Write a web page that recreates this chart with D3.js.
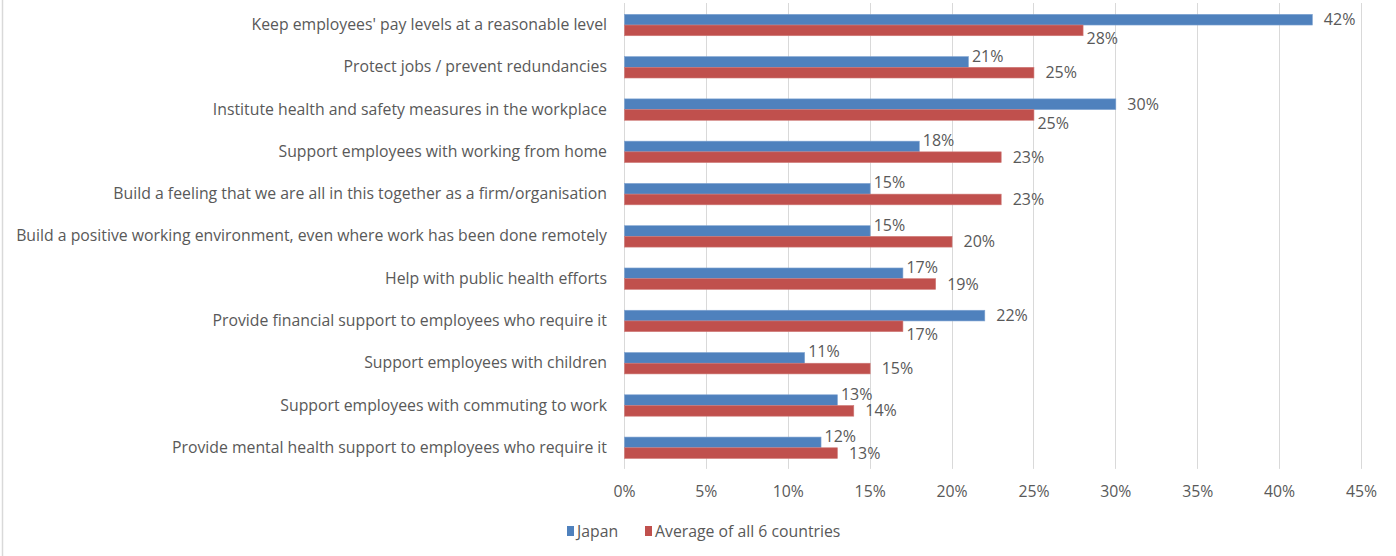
<!DOCTYPE html>
<html>
<head>
<meta charset="utf-8">
<script src="https://cdn.jsdelivr.net/npm/d3@7"></script>
<style>
  html, body { margin: 0; padding: 0; background: #fff; }
  svg { display: block; }
  .tick text, .lbl, .legend text { fill: #595959; font-family: "Open Sans", sans-serif; }
</style>
</head>
<body>
<div id="chart"></div>
<script>
// -- data ---------------------------------------------------
const categories = [
  "Keep employees' pay levels at a reasonable level",
  "Protect jobs / prevent redundancies",
  "Institute health and safety measures in the workplace",
  "Support employees with working from home",
  "Build a feeling that we are all in this together as a firm/organisation",
  "Build a positive working environment, even where work has been done remotely",
  "Help with public health efforts",
  "Provide financial support to employees who require it",
  "Support employees with children",
  "Support employees with commuting to work",
  "Provide mental health support to employees who require it"
];
const japan   = [42, 21, 30, 18, 15, 15, 17, 22, 11, 13, 12];
const average = [28, 25, 25, 23, 23, 20, 19, 17, 15, 14, 13];
const seriesNames = ["Japan", "Average of all 6 countries"];
const xTicks = [0, 5, 10, 15, 20, 25, 30, 35, 40, 45];

// -- config -------------------------------------------------
const CONFIG = {
  WIDTH: 1396,
  HEIGHT: 556,
  X0: 624, X1: 1361,
  Y0: 3.9, Y1: 468.9,
  GRID_TOP: 3,
  COLORS: ["#4F81BD", "#C0504D"],
  STROKES: ["#7fa3d1", "#cf7b78"],
  GRID: "#d9d9d9",
  FONT_SIZE: 15.8,
  LABEL_SIZE: 16
};

const svg = d3.select("#chart").append("svg")
  .attr("width", CONFIG.WIDTH)
  .attr("height", CONFIG.HEIGHT);

// outer chart border (left edge only visible)
svg.append("line")
  .attr("x1", 2.5).attr("x2", 2.5)
  .attr("y1", 0).attr("y2", CONFIG.HEIGHT)
  .attr("stroke", "#d9d9d9").attr("stroke-width", 1.5);

// -- scales -------------------------------------------------
const x = d3.scaleLinear().domain([0, 45]).range([CONFIG.X0, CONFIG.X1]);

const y = d3.scaleBand()
  .domain(categories)
  .range([CONFIG.Y0, CONFIG.Y1])
  .paddingInner(0.494)
  .paddingOuter(0.247);

const ySub = d3.scaleBand()
  .domain([0, 1])
  .range([0, y.bandwidth()]);

// -- gridlines + x axis labels ------------------------------
svg.append("g")
  .selectAll("line")
  .data(xTicks)
  .join("line")
  .attr("x1", d => Math.round(x(d)) + 0.5)
  .attr("x2", d => Math.round(x(d)) + 0.5)
  .attr("y1", CONFIG.GRID_TOP)
  .attr("y2", CONFIG.Y1)
  .attr("stroke", CONFIG.GRID)
  .attr("stroke-width", 1);

const xAxis = svg.append("g")
  .attr("transform", `translate(0, ${CONFIG.Y1})`)
  .call(d3.axisBottom(x).tickValues(xTicks).tickSize(0).tickPadding(17).tickFormat(d => d + "%"));
xAxis.select(".domain").remove();
xAxis.selectAll(".tick text").style("font-size", CONFIG.FONT_SIZE + "px");

// -- y axis labels ------------------------------------------
const yAxis = svg.append("g")
  .attr("transform", `translate(${CONFIG.X0 - 17}, 0)`)
  .call(d3.axisLeft(y).tickSize(0).tickPadding(0));
yAxis.select(".domain").remove();
yAxis.selectAll(".tick text").style("font-size", CONFIG.FONT_SIZE + "px");

// -- bars ---------------------------------------------------
const rows = categories.map((c, i) => ({ cat: c, vals: [japan[i], average[i]] }));

const groups = svg.append("g")
  .selectAll("g")
  .data(rows)
  .join("g")
  .attr("transform", d => `translate(0, ${y(d.cat)})`);

groups.selectAll("rect")
  .data(d => d.vals.map((v, s) => ({ v, s })))
  .join("rect")
  .attr("x", x(0) + 0.5)
  .attr("y", d => ySub(d.s))
  .attr("width", d => x(d.v) - x(0))
  .attr("height", ySub.bandwidth())
  .attr("fill", d => CONFIG.COLORS[d.s])
  .attr("stroke", d => CONFIG.STROKES[d.s])
  .attr("stroke-width", 0.6);

// data labels: larger bar's label sits at the bar end, the smaller one
// is tucked close to its bar and nudged away from the other label
groups.selectAll("text")
  .data(d => {
    const big = d.vals[0] >= d.vals[1] ? 0 : 1;
    return d.vals.map((v, s) => ({ v, s, main: s === big }));
  })
  .join("text")
  .attr("class", "lbl")
  .attr("x", d => x(d.v) + (d.main ? 12 : 4))
  .attr("y", d => ySub(d.s) + ySub.bandwidth() / 2 + (d.main ? 0 : (d.s === 0 ? -6 : 8)))
  .attr("dy", "0.35em")
  .style("font-size", CONFIG.LABEL_SIZE + "px")
  .text(d => d.v + "%");

// -- legend -------------------------------------------------
const legend = svg.append("g").attr("class", "legend")
  .attr("transform", "translate(567, 531)");
const legendX = [0, 78];
seriesNames.forEach((name, s) => {
  const g = legend.append("g").attr("transform", `translate(${legendX[s]}, 0)`);
  g.append("rect")
    .attr("x", 0).attr("y", -5)
    .attr("width", 7).attr("height", 10)
    .attr("fill", CONFIG.COLORS[s]);
  g.append("text")
    .attr("x", 10).attr("dy", "0.35em")
    .style("font-size", CONFIG.FONT_SIZE + "px")
    .text(name);
});
</script>
</body>
</html>
